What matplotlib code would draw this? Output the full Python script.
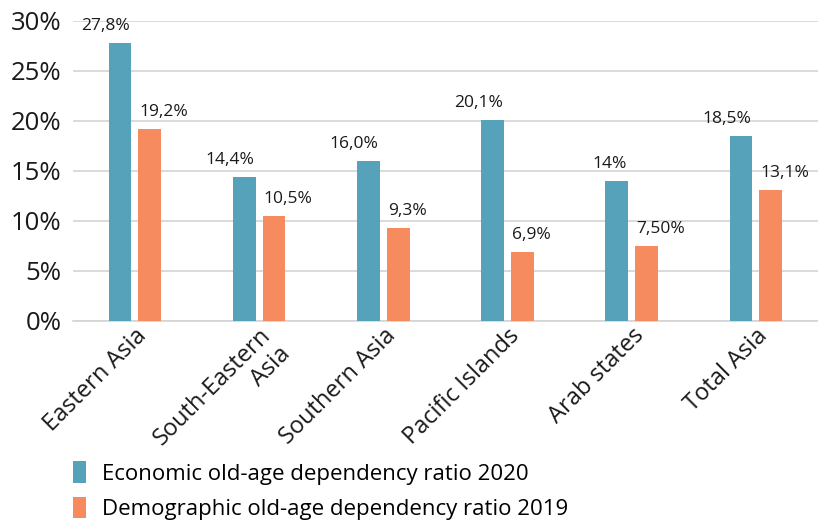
import matplotlib.pyplot as plt
import numpy as np

regions = ["Eastern Asia", "South-Eastern\nAsia", "Southern Asia",
           "Pacific Islands", "Arab states", "Total Asia"]
economic_2020 = [27.8, 14.4, 16.0, 20.1, 14.0, 18.5]
demographic_2019 = [19.2, 10.5, 9.3, 6.9, 7.5, 13.1]
economic_labels = ["27,8%", "14,4%", "16,0%", "20,1%", "14%", "18,5%"]
demographic_labels = ["19,2%", "10,5%", "9,3%", "6,9%", "7,50%", "13,1%"]
yticks = [0, 5, 10, 15, 20, 25, 30]

BLUE = "#55a2ba"
ORANGE = "#f68b5f"

plt.rcParams['font.family'] = ['Open Sans', 'DejaVu Sans']

fig = plt.figure(figsize=(8.18, 5.2), dpi=100)
ax = fig.add_axes([0.089, 0.383, 0.911, 0.577])

x = np.arange(len(regions))
width = 0.185
offset = 0.12

bars_eco = ax.bar(x - offset, economic_2020, width, color=BLUE,
                  label="Economic old-age dependency ratio 2020", zorder=3)
bars_dem = ax.bar(x + offset, demographic_2019, width, color=ORANGE,
                  label="Demographic old-age dependency ratio 2019", zorder=3)

# blue labels hug the right edge of their bar, orange ones the left edge
for bar, text in zip(bars_eco, economic_labels):
    ax.annotate(text, (bar.get_x() + bar.get_width(), bar.get_height()),
                xytext=(-1, 6), textcoords="offset points",
                ha="right", va="bottom", fontsize=12.5, color="#1a1a1a")
for bar, text in zip(bars_dem, demographic_labels):
    ax.annotate(text, (bar.get_x(), bar.get_height()),
                xytext=(1, 6), textcoords="offset points",
                ha="left", va="bottom", fontsize=12.5, color="#1a1a1a")

ax.set_xlim(-0.5, len(regions) - 0.5)
ax.set_ylim(0, 30)
ax.set_yticks(yticks)
ax.set_yticklabels([f"{t}%" for t in yticks], fontsize=18.5, color="#1a1a1a")
ax.set_xticks(x)
ax.set_xticklabels(regions, rotation=45, ha="right", rotation_mode="anchor",
                   fontsize=17, color="#1a1a1a", linespacing=1.15)
ax.tick_params(axis="y", length=0, pad=8)
ax.tick_params(axis="x", length=0, pad=2)

ax.grid(axis="y", color="#d4d4d4", linewidth=1.2, zorder=0)
for side in ("top", "right", "left"):
    ax.spines[side].set_visible(False)
ax.spines["bottom"].set_color("#d4d4d4")
ax.spines["bottom"].set_linewidth(1.2)

fig.legend(handles=[bars_eco, bars_dem], loc="upper left",
           bbox_to_anchor=(0.078, 0.13), frameon=False, fontsize=16,
           handlelength=0.6, handleheight=1.1, handletextpad=0.7,
           labelspacing=0.55, borderaxespad=0)

fig.savefig("out.png", dpi=100)
